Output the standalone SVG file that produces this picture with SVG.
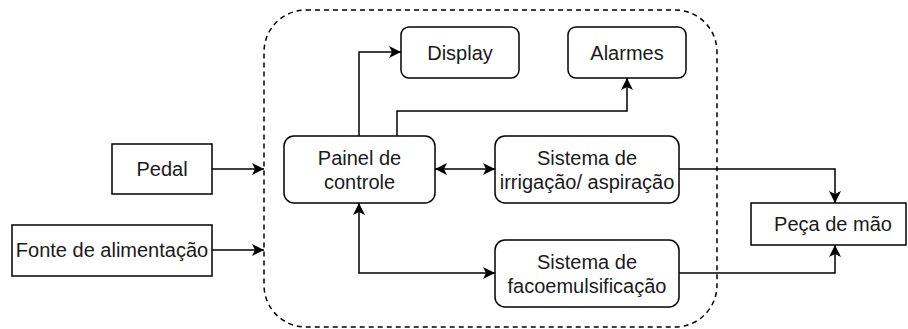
<svg xmlns="http://www.w3.org/2000/svg" width="908" height="329" viewBox="0 0 908 329">
<style>
.box{fill:#fff;stroke:#000;stroke-width:1.5}
.lbl{font-family:"Liberation Sans",Arial,Helvetica,sans-serif;font-size:20px;fill:#1a1a1a;text-anchor:middle}
.edge{fill:none;stroke:#000;stroke-width:1.5}
.cont{fill:none;stroke:#000;stroke-width:1.5;stroke-dasharray:5 4}
</style>
<defs>
<marker id="ae" markerUnits="userSpaceOnUse" markerWidth="14" markerHeight="12" refX="12" refY="6" orient="auto">
<path d="M0,0 L12,6 L0,12 L3,6 Z" fill="#000"/>
</marker>
<marker id="as" markerUnits="userSpaceOnUse" markerWidth="14" markerHeight="12" refX="0" refY="6" orient="auto">
<path d="M12,0 L0,6 L12,12 L9,6 Z" fill="#000"/>
</marker>
</defs>
<g id="container"><rect class="cont" x="264" y="10" width="453" height="317" rx="42" ry="42"/></g>
<g id="connectors">
<path class="edge" d="M212,169 H264" marker-end="url(#ae)"/>
<path class="edge" d="M212,250 H264" marker-end="url(#ae)"/>
<path class="edge" d="M359,136 V52 H401" marker-end="url(#ae)"/>
<path class="edge" d="M397,136 V111 H627 V78" marker-end="url(#ae)"/>
<path class="edge" d="M435,169 H495" marker-start="url(#as)" marker-end="url(#ae)"/>
<path class="edge" d="M495,273 H359 V203" marker-start="url(#as)" marker-end="url(#ae)"/>
<path class="edge" d="M679,169 H835 V203" marker-end="url(#ae)"/>
<path class="edge" d="M679,273 H835 V245" marker-end="url(#ae)"/>
</g>
<g id="pedal"><rect class="box" x="112" y="144" width="100" height="50"/><text class="lbl" x="162" y="176">Pedal</text></g>
<g id="fonte"><rect class="box" x="12" y="225" width="200" height="51"/><text class="lbl" x="112" y="257">Fonte de alimentação</text></g>
<g id="display"><rect class="box" x="401" y="27" width="118" height="51" rx="8"/><text class="lbl" x="460" y="59.5">Display</text></g>
<g id="alarmes"><rect class="box" x="568" y="27" width="118" height="51" rx="8"/><text class="lbl" x="627" y="59.5">Alarmes</text></g>
<g id="painel"><rect class="box" x="284" y="136" width="151" height="67" rx="10"/><text class="lbl" x="359.5" y="164.5">Painel de</text><text class="lbl" x="359.5" y="188.5">controle</text></g>
<g id="irrigacao"><rect class="box" x="495" y="136" width="184" height="67" rx="10"/><text class="lbl" x="587" y="164.5">Sistema de</text><text class="lbl" x="587" y="188.5">irrigação/ aspiração</text></g>
<g id="faco"><rect class="box" x="495" y="240" width="184" height="67" rx="10"/><text class="lbl" x="587" y="268.5">Sistema de</text><text class="lbl" x="587" y="292.5">facoemulsificação</text></g>
<g id="peca"><rect class="box" x="751" y="203" width="155" height="42"/><text class="lbl" x="833" y="231">Peça de mão</text></g>
</svg>
